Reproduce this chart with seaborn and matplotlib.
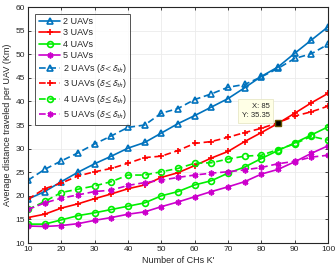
import numpy as np
import pandas as pd
import matplotlib
matplotlib.use("Agg")
import matplotlib.pyplot as plt
import seaborn as sns

# number of cluster heads K'
num_chs = list(range(10, 101, 5))

uav2 = [19.3, 20.9, 23.0, 25.0, 26.8, 28.4, 30.1, 31.3, 33.3, 35.3,
        37.0, 38.8, 40.6, 42.9, 45.3, 47.3, 50.2, 53.0, 55.8]
uav3 = [15.4, 16.1, 17.4, 18.3, 19.4, 20.4, 21.5, 22.3, 23.9, 24.9,
        26.4, 28.0, 29.4, 31.5, 33.4, 35.35, 37.5, 39.7, 41.7]
uav4 = [14.0, 14.0, 14.9, 15.8, 16.4, 17.1, 17.8, 18.5, 20.0, 20.9,
        22.3, 23.2, 24.8, 26.1, 27.9, 29.6, 31.2, 32.9, 34.6]
uav5 = [13.6, 13.5, 13.7, 14.1, 14.8, 15.4, 16.1, 16.6, 17.7, 18.7,
        19.8, 20.9, 21.9, 23.0, 24.6, 25.6, 27.2, 29.0, 30.6]

uav2_th = [23.3, 25.6, 27.4, 29.1, 31.0, 32.7, 34.5, 35.0, 37.5, 38.5,
           40.4, 41.6, 43.0, 43.6, 45.2, 47.0, 49.1, 50.1, 52.1]
uav3_th = [19.3, 21.5, 22.7, 24.2, 25.1, 25.8, 26.9, 28.1, 28.4, 29.6,
           31.1, 31.5, 32.4, 33.4, 34.3, 35.5, 36.9, 37.8, 39.0]
uav4_th = [17.1, 18.8, 20.7, 21.4, 22.1, 23.0, 24.4, 24.4, 25.1, 25.8,
           26.9, 27.0, 27.8, 28.4, 28.6, 29.8, 31.0, 32.6, 31.8]
uav5_th = [17.1, 18.5, 19.5, 20.2, 20.9, 21.2, 22.2, 22.8, 23.3, 23.9,
           24.4, 24.8, 25.1, 25.5, 26.0, 26.8, 27.3, 28.2, 28.6]

labels = ["2 UAVs", "3 UAVs", "4 UAVs", "5 UAVs",
          r"2 UAVs ($\delta < \delta_{th}$)",
          r"3 UAVs ($\delta \leq \delta_{th}$)",
          r"4 UAVs ($\delta \leq \delta_{th}$)",
          r"5 UAVs ($\delta \leq \delta_{th}$)"]
series = [uav2, uav3, uav4, uav5, uav2_th, uav3_th, uav4_th, uav5_th]
colors = ["#0072BD", "#FF0000", "#00EE00", "#CC00CC"] * 2
markers = ["^", "+", "o", (6, 2, 0)] * 2

tip_x, tip_y = 85, 35.35

sns.set_style("whitegrid", {"axes.edgecolor": "#262626", "grid.color": "#ebebeb",
                            "xtick.bottom": True, "ytick.left": True,
                            "xtick.direction": "in", "ytick.direction": "in"})
plt.rcParams["font.family"] = ["Liberation Sans", "DejaVu Sans"]
plt.rcParams["mathtext.fontset"] = "stixsans"

fig = plt.figure(figsize=(3.35, 2.71), dpi=100)
ax = fig.add_axes([0.0836, 0.1033, 0.8955, 0.8707])

for i, (vals, lab) in enumerate(zip(series, labels)):
    ls = "-" if i < 4 else (0, (4, 2.2))
    sns.lineplot(x=num_chs, y=vals, ax=ax, color=colors[i], marker=markers[i],
                 linestyle=ls, linewidth=1.2, markersize=4.2,
                 markerfacecolor="none", markeredgecolor=colors[i],
                 markeredgewidth=1.2, label=lab)

ax.plot([tip_x], [tip_y], marker="s", color="black", markersize=4,
        markeredgecolor="#665500", linestyle="none")
ax.annotate(f"X: {tip_x}\nY: {tip_y}", xy=(tip_x, tip_y), xytext=(-6, 3),
            textcoords="offset points", ha="right", va="bottom", fontsize=5.5,
            linespacing=1.5,
            bbox=dict(boxstyle="square,pad=0.5", fc="#FFFFE6", ec="#e8e8c8", lw=0.6))

ax.set_xlim(10, 100)
ax.set_ylim(10, 60)
ax.set_xticks(range(10, 101, 10))
ax.set_yticks(range(10, 61, 5))
ax.tick_params(labelsize=6, length=2.5, width=0.6, top=True, right=True,
               colors="#262626", pad=2)
for sp in ax.spines.values():
    sp.set_linewidth(0.8)
ax.grid(True, linewidth=0.6)
ax.set_xlabel("Number of CHs K'", fontsize=6.5, labelpad=2, color="#262626")
ax.set_ylabel("Average distance traveled per UAV (Km)", fontsize=6.5,
              labelpad=3, color="#262626")

leg = ax.legend(loc="upper left", bbox_to_anchor=(0.018, 0.98), fontsize=6.5,
                frameon=True, fancybox=False, edgecolor="#262626",
                handlelength=2.4, labelspacing=0.25, borderpad=0.4,
                handletextpad=0.3, borderaxespad=0.2)
leg.get_frame().set_linewidth(0.7)

fig.savefig("out.png", dpi=100)
